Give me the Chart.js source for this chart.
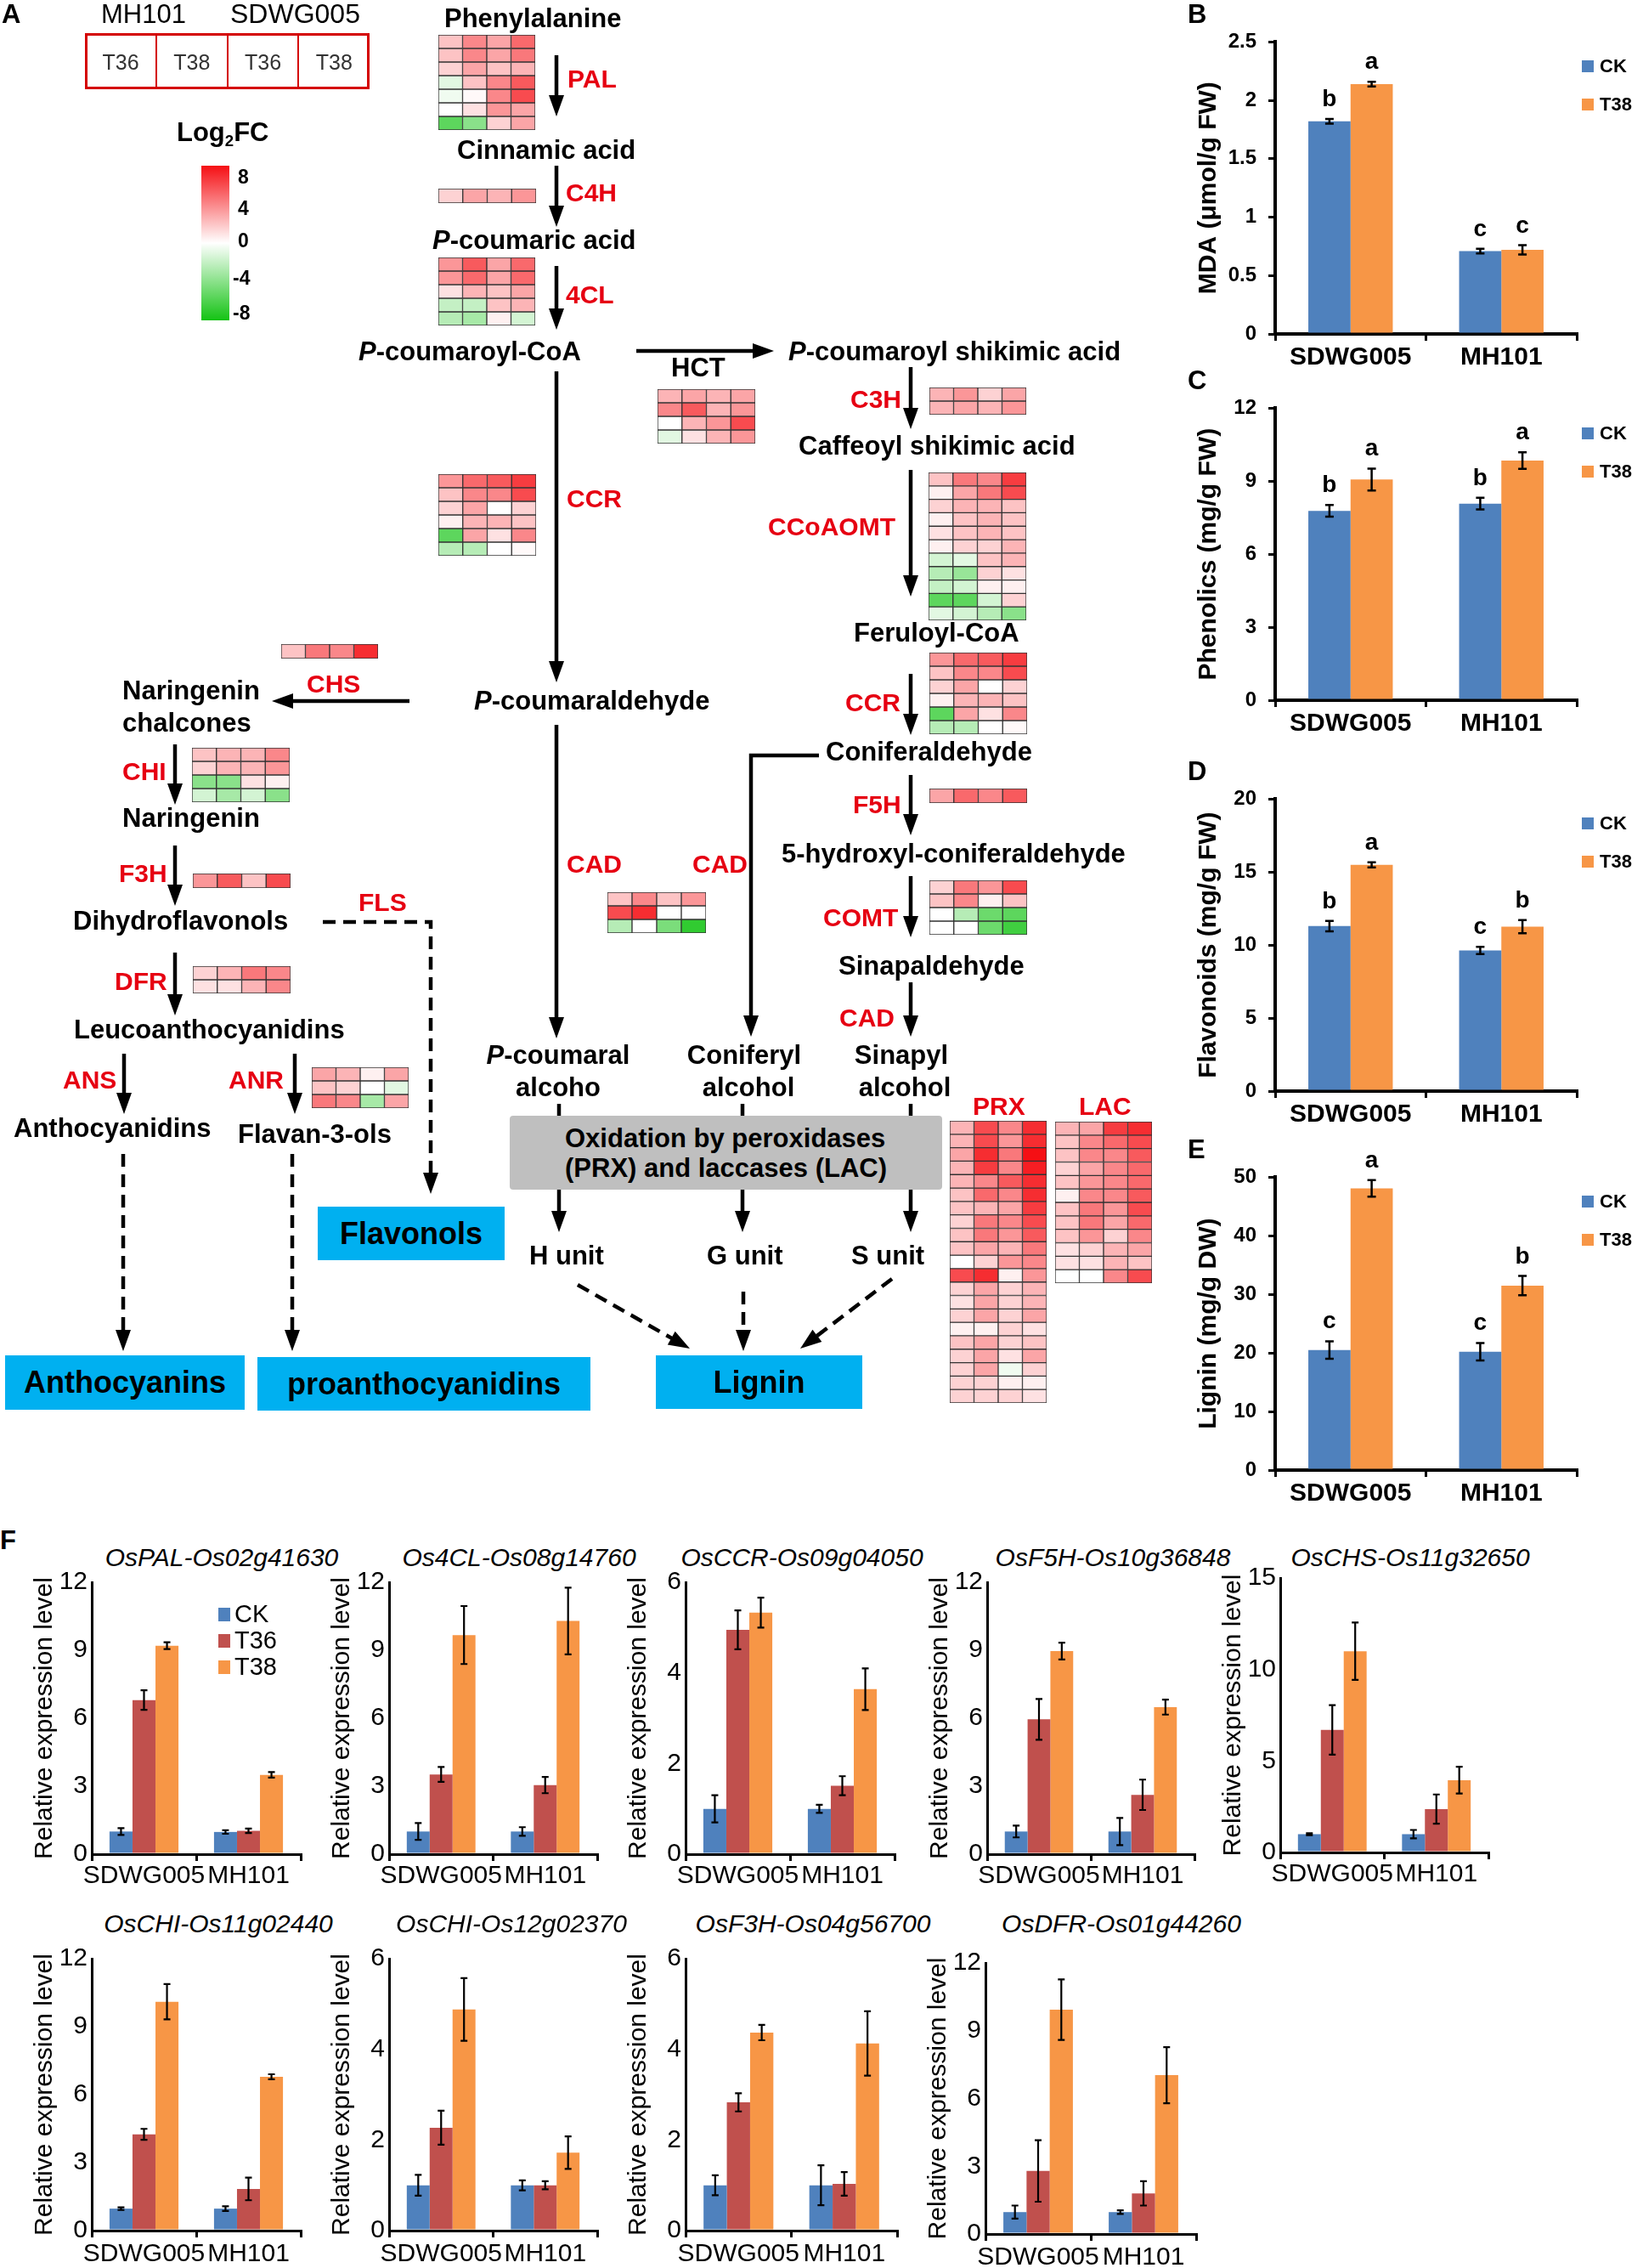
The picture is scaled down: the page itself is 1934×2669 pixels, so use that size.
<!DOCTYPE html>
<html>
<head>
<meta charset="utf-8">
<script src="https://cdn.jsdelivr.net/npm/chart.js@4"></script>
<style>
body { margin:0; background:#fff; width:1934px; height:2669px; position:relative; overflow:hidden; font-family:"Liberation Sans", Arial, sans-serif; }
.t { position:absolute; white-space:nowrap; line-height:1; color:#000; }
.box { position:absolute; display:flex; align-items:center; justify-content:center; font-weight:bold; color:#000; }
canvas { position:absolute; }
sub { font-size:60%; vertical-align:-0.3em; line-height:0; }
</style>
</head>
<body>
<canvas id="lines" width="1934" height="1700" style="left:0;top:0"></canvas>
<script>
// ---- heatmap values (log2 fold change), columns: MH101 T36, MH101 T38, SDWG005 T36, SDWG005 T38
const fcColumns = ['MH101 T36', 'MH101 T38', 'SDWG005 T36', 'SDWG005 T38'];
const palFC = [[2,4,3,5],[2,4,3,4.5],[1.5,3,2,2.5],[-1,2,4,5.5],[-0.5,0.2,4,6],[0,1,3.5,3],[-5.5,-4,1.5,3]];
const c4hFC = [[1.5,3,2.5,3.5]];
const clFC = [[3.5,5.5,3,5],[3.5,5,3,5],[1,2.5,2,3],[-2,-2,2,2.5],[-2.5,-3,0.5,-1.5]];
const hctFC = [[2.5,3,2.5,3],[4,5.5,2.5,3.5],[0,2.5,3.5,6],[-1,1,2.5,3.5]];
const c3hFC = [[2.5,3.5,1.5,3],[2.5,3,2.5,3.5]];
const ccrFC = [[3.5,5,5.5,6.5],[2,4,4,6],[1.5,3,0,1.5],[0.5,2.5,2.5,2],[-5.5,3,1,4],[-2.5,-2.5,0,0.2]];
const ccoaomtFC = [[2,4.5,4,6.5],[0.5,3,4.5,6],[1.5,2.5,2.5,2],[0.5,2,2.5,2],[1,2,2.5,2],[0.5,1.5,1.5,2.5],
  [-1.5,-1,2,2.5],[-2.5,-3.5,1.5,1],[-2,-1.5,0.5,0.5],[-5.5,-5.5,-1.5,1.5],[-1,-1.5,-2.5,-4]];
const chsFC = [[2,4.5,4,7]];
const chiFC = [[2,2.5,2.5,4],[1.5,2.5,2.5,3.5],[-4,-4,1,0.5],[-1.5,-3,-1.5,-4]];
const f3hFC = [[3.5,5.5,2,6]];
const dfrFC = [[1.5,2.5,4.5,4],[1,1,2.5,4]];
const anrFC = [[3,2.5,0.5,3],[2,1.5,0,-1],[4.5,4,-3,3]];
const cadFC = [[2,4,2,3.5],[6,7,0,0],[-2.5,0,-4.5,-7]];
const f5hFC = [[3,5,4,5.5]];
const comtFC = [[1.5,4.5,3.5,6],[2,4,0.5,2],[0,-2.5,-5,-5.5],[0,0,-5,-6.5]];
const prxFC = [[2.5,6,4,7],[2.5,6,3.5,7],[3,7,4.5,8],[2.5,6.5,4,7.5],[2.5,4,5.5,7],[2,5,4,7],[2,2.5,3,6.5],
  [1.5,4.5,4,6],[2,4.5,3.5,5.5],[2,3,2.5,4.5],[0,1.5,3.5,4],[6,7,0.5,3.5],[1.5,3,1.5,2.5],[1,3,1.5,2.5],
  [1.5,3,1.5,3],[0.5,0.5,1.5,1],[2,3,1.5,2],[1.5,3,1,3],[1.5,3,-0.5,1.5],[1.5,1.5,0.5,0.5],[1.5,1.5,1.5,1]];
const lacFC = [[2.5,3,6.5,7],[2,4,5,6],[2,4,4,5.5],[1.5,3,4,5],[2,3.5,4,5],[0.5,4,4,5.5],[2,4.5,3.5,6],
  [2,4.5,3,5],[2,3.5,1.5,4],[1,1.5,2.5,3],[1,1,2.5,2],[0,0,4,6]];
const fcTicks = ['8', '4', '0', '-4', '-8'];

// ---- panels B-E
const cultivars = ['SDWG005', 'MH101'];
const mdaCK = [1.82, 0.71], mdaT38 = [2.14, 0.72];
const mdaCKerr = [0.02, 0.02], mdaT38err = [0.02, 0.04];
const phenCK = [7.78, 8.08], phenT38 = [9.07, 9.85];
const phenCKerr = [0.24, 0.24], phenT38err = [0.45, 0.34];
const flavCK = [11.3, 9.63], flavT38 = [15.5, 11.26];
const flavCKerr = [0.36, 0.25], flavT38err = [0.17, 0.45];
const ligCK = [20.5, 20.2], ligT38 = [48.1, 31.5];
const ligCKerr = [1.5, 1.5], ligT38err = [1.4, 1.65];

// ---- panel F (rows: CK, T36, T38; columns: SDWG005, MH101)
const meanPAL = [[1.0, 0.98], [6.8, 1.03], [9.2, 3.5]],   errPAL = [[0.15, 0.08], [0.43, 0.1], [0.15, 0.12]];
const mean4CL = [[1.0, 1.0], [3.52, 3.05], [9.67, 10.29]], err4CL = [[0.37, 0.19], [0.33, 0.36], [1.28, 1.47]];
const meanCCR = [[1.0, 1.0], [4.95, 1.51], [5.33, 3.64]], errCCR = [[0.3, 0.09], [0.43, 0.21], [0.33, 0.46]];
const meanF5H = [[1.0, 1.0], [5.95, 2.62], [8.96, 6.49]], errF5H = [[0.26, 0.6], [0.9, 0.67], [0.37, 0.33]];
const meanCHS = [[1.0, 1.0], [6.7, 2.37], [11.0, 3.95]], errCHS = [[0.05, 0.23], [1.35, 0.8], [1.57, 0.73]];
const meanCHI11 = [[0.97, 0.97], [4.25, 1.84], [10.1, 6.79]], errCHI11 = [[0.06, 0.1], [0.24, 0.5], [0.78, 0.11]];
const meanCHI12 = [[1.0, 1.0], [2.27, 1.0], [4.88, 1.72]], errCHI12 = [[0.23, 0.11], [0.375, 0.09], [0.69, 0.36]];
const meanF3H = [[1.0, 1.0], [2.83, 1.03], [4.37, 4.13]], errF3H = [[0.22, 0.44], [0.2, 0.26], [0.17, 0.71]];
const meanDFR = [[0.97, 0.97], [2.79, 1.8], [9.93, 7.03]], errDFR = [[0.29, 0.08], [1.36, 0.54], [1.34, 1.24]];
const treatments = ['CK', 'T36', 'T38'];
const treatColors = ['#4f81bd', '#c0504d', '#f79646'];

const FONT = '"Liberation Sans", Arial, sans-serif';
Chart.defaults.font.family = FONT;

function txt(html, x, base, o) {
  o = o || {};
  const s = o.s || 31;
  const d = document.createElement('div');
  d.className = 't';
  d.innerHTML = html;
  d.style.fontSize = s + 'px';
  d.style.fontWeight = o.n ? 'normal' : 'bold';
  if (o.i) d.style.fontStyle = 'italic';
  if (o.red) d.style.color = '#e60012';
  if (o.c) d.style.color = o.c;
  d.style.left = x + 'px';
  d.style.top = (base - 0.8465 * s) + 'px';
  if (o.mid) d.style.transform = 'translateX(-50%)';
  document.body.appendChild(d);
}
function rect(x, y, w, h, css, html) {
  const d = document.createElement('div');
  d.className = 'box';
  d.style.cssText += `left:${x}px;top:${y}px;width:${w}px;height:${h}px;` + css;
  if (html) d.innerHTML = html;
  document.body.appendChild(d);
  return d;
}

function fcColor(v) {
  const t = Math.min(Math.abs(v) / 8, 1);
  const end = v >= 0 ? [245, 15, 20] : [20, 195, 20];
  const c = end.map(e => Math.round(255 - t * (255 - e)));
  return `rgb(${c[0]},${c[1]},${c[2]})`;
}

function heatmap(rows, x, y, w, h) {
  const cv = document.createElement('canvas');
  cv.width = w; cv.height = h;
  cv.style.left = x + 'px'; cv.style.top = y + 'px';
  document.body.appendChild(cv);
  new Chart(cv, {
    type: 'bar',
    data: {
      labels: fcColumns,
      datasets: rows.map(r => ({
        data: r.map(() => 1), backgroundColor: r.map(fcColor),
        borderColor: '#333', borderWidth: 1, borderSkipped: false,
        barPercentage: 1, categoryPercentage: 1
      }))
    },
    options: {
      responsive: false, animation: false, devicePixelRatio: 1,
      layout: { padding: 0 },
      plugins: { legend: { display: false }, tooltip: { enabled: false } },
      scales: {
        x: { display: false, stacked: true },
        y: { display: false, stacked: true, min: 0, max: rows.length, reverse: true }
      }
    }
  });
}

// ---------- panel A diagram ----------
const g = document.getElementById('lines').getContext('2d');
function arrow(pts, dashed, head) {
  if (head === undefined) head = true;
  g.save();
  g.lineWidth = 4.5; g.strokeStyle = '#000'; g.fillStyle = '#000';
  if (dashed) g.setLineDash([15, 9]);
  const n = pts.length;
  const [xa, ya] = pts[n - 2], [xb, yb] = pts[n - 1];
  const ang = Math.atan2(yb - ya, xb - xa), L = 25, W = 9;
  g.beginPath();
  g.moveTo(pts[0][0], pts[0][1]);
  for (let i = 1; i < n - 1; i++) g.lineTo(pts[i][0], pts[i][1]);
  g.lineTo(head ? xb - Math.cos(ang) * L * 0.8 : xb, head ? yb - Math.sin(ang) * L * 0.8 : yb);
  g.stroke();
  if (head) {
    const bx = xb - Math.cos(ang) * L, by = yb - Math.sin(ang) * L;
    g.setLineDash([]);
    g.beginPath();
    g.moveTo(xb, yb);
    g.lineTo(bx - W * Math.sin(ang), by + W * Math.cos(ang));
    g.lineTo(bx + W * Math.sin(ang), by - W * Math.cos(ang));
    g.closePath(); g.fill();
  }
  g.restore();
}
arrow([[655, 65], [655, 137]]);
arrow([[655, 195], [655, 267]]);
arrow([[655, 313], [655, 388]]);
arrow([[655, 437], [655, 803]]);
arrow([[749, 413], [911, 413]]);
arrow([[1072, 432], [1072, 505]]);
arrow([[1072, 553], [1072, 702]]);
arrow([[1072, 793], [1072, 865]]);
arrow([[964, 889], [884, 889], [884, 1220]]);
arrow([[1072, 912], [1072, 983]]);
arrow([[1072, 1031], [1072, 1103]]);
arrow([[1072, 1156], [1072, 1220]]);
arrow([[655, 853], [655, 1222]]);
arrow([[482, 825], [320, 825]]);
arrow([[206, 876], [206, 947]]);
arrow([[206, 995], [206, 1066]]);
arrow([[206, 1121], [206, 1195]]);
arrow([[146, 1240], [146, 1311]]);
arrow([[347, 1240], [347, 1311]]);
[658, 874, 1072].forEach(x => { arrow([[x, 1299], [x, 1313]], false, false); arrow([[x, 1400], [x, 1450]]); });
arrow([[380, 1085], [507, 1085], [507, 1405]], true);
arrow([[145, 1358], [145, 1590]], true);
arrow([[344, 1358], [344, 1590]], true);
arrow([[680, 1512], [812, 1587]], true);
arrow([[875, 1520], [875, 1590]], true);
arrow([[1050, 1505], [942, 1587]], true);

// header box and colour bar
txt('A', 2, 27);
txt('MH101', 119, 27, { n: 1, s: 31 });
txt('SDWG005', 271, 27, { n: 1, s: 32 });
rect(100, 39, 335, 66, 'border:3px solid #d40000;box-sizing:border-box;');
['T36', 'T38', 'T36', 'T38'].forEach((s, i) => {
  if (i > 0) rect(100 + i * 83.75 - 1, 39, 2, 66, 'background:#d40000;');
  txt(s, 100 + i * 83.75 + 42, 82, { n: 1, s: 25, mid: 1, c: '#333' });
});
txt('Log<sub>2</sub>FC', 208, 166);
rect(237, 195, 33, 182, 'background:linear-gradient(to bottom,' + fcColor(8) + ',#fff 50%,' + fcColor(-8) + ');');
const fcTickY = [208, 245, 283, 327, 368];
fcTicks.forEach((s, i) => txt(s, s[0] === '-' ? 274 : 280, fcTickY[i] + 8, { s: 23 }));

heatmap(palFC, 516, 41, 114, 112);
heatmap(c4hFC, 516, 222, 115, 17);
heatmap(clFC, 516, 303, 114, 80);
heatmap(hctFC, 774, 458, 115, 64);
heatmap(c3hFC, 1094, 456, 114, 32);
heatmap(ccrFC, 516, 558, 115, 96);
heatmap(ccoaomtFC, 1093, 556, 115, 174);
heatmap(ccrFC, 1094, 768, 115, 96);
heatmap(chsFC, 331, 758, 114, 17);
heatmap(chiFC, 226, 880, 115, 64);
heatmap(f3hFC, 227, 1028, 115, 17);
heatmap(dfrFC, 227, 1137, 115, 32);
heatmap(anrFC, 367, 1256, 114, 48);
heatmap(cadFC, 715, 1050, 116, 48);
heatmap(f5hFC, 1094, 928, 115, 17);
heatmap(comtFC, 1094, 1036, 115, 64);
heatmap(prxFC, 1118, 1319, 114, 332);
heatmap(lacFC, 1242, 1320, 114, 190);

const R = { red: 1, s: 30 };
txt('Phenylalanine', 523, 32);
txt('PAL', 668, 103, R);
txt('Cinnamic acid', 538, 187);
txt('C4H', 666, 237, R);
txt('<i>P</i>-coumaric acid', 509, 293);
txt('4CL', 666, 357, R);
txt('<i>P</i>-coumaroyl-CoA', 422, 424);
txt('HCT', 790, 443);
txt('<i>P</i>-coumaroyl shikimic acid', 928, 424);
txt('C3H', 1001, 480, R);
txt('Caffeoyl shikimic acid', 940, 535);
txt('CCR', 667, 597, R);
txt('CCoAOMT', 904, 630, R);
txt('Feruloyl-CoA', 1005, 755);
txt('CHS', 361, 815, R);
txt('Naringenin', 144, 823);
txt('chalcones', 144, 861);
txt('<i>P</i>-coumaraldehyde', 558, 835);
txt('CCR', 995, 837, R);
txt('Coniferaldehyde', 972, 895);
txt('CHI', 144, 918, R);
txt('F5H', 1004, 957, R);
txt('Naringenin', 144, 973);
txt('5-hydroxyl-coniferaldehyde', 920, 1015);
txt('CAD', 667, 1027, R);
txt('CAD', 815, 1027, R);
txt('F3H', 140, 1038, R);
txt('FLS', 422, 1072, R);
txt('COMT', 969, 1090, R);
txt('Dihydroflavonols', 86, 1094);
txt('Sinapaldehyde', 987, 1147);
txt('DFR', 135, 1165, R);
txt('CAD', 988, 1208, R);
txt('Leucoanthocyanidins', 87, 1222);
txt('<i>P</i>-coumaral', 657, 1252, { mid: 1 });
txt('alcoho', 657, 1290, { mid: 1 });
txt('Coniferyl', 876, 1252, { mid: 1 });
txt('alcohol', 881, 1290, { mid: 1 });
txt('Sinapyl', 1061, 1252, { mid: 1 });
txt('alcohol', 1065, 1290, { mid: 1 });
txt('ANS', 74, 1281, R);
txt('ANR', 269, 1281, R);
txt('PRX', 1145, 1312, R);
txt('LAC', 1270, 1312, R);
txt('Anthocyanidins', 16, 1338);
txt('Flavan-3-ols', 280, 1345);
rect(600, 1313, 509, 87, 'background:#bfbfbf;border-radius:4px;flex-direction:column;font-size:31px;line-height:35px;',
  'Oxidation by peroxidases<br>(PRX) and laccases (LAC)');
txt('H unit', 623, 1488);
txt('G unit', 832, 1488);
txt('S unit', 1002, 1488);
const blue = 'background:#00b0f0;font-size:36px;';
rect(374, 1420, 220, 63, blue, 'Flavonols');
rect(6, 1595, 282, 64, blue, 'Anthocyanins');
rect(303, 1597, 392, 63, blue, 'proanthocyanidins');
rect(772, 1595, 243, 63, blue, 'Lignin');

// ---------- bar charts ----------
const errPlugin = {
  id: 'errbars',
  afterDatasetsDraw(chart, args, opts) {
    const ctx = chart.ctx, ys = chart.scales.y;
    chart.data.datasets.forEach((ds, i) => {
      chart.getDatasetMeta(i).data.forEach((bar, j) => {
        const v = ds.data[j], e = ds.err[j];
        const top = ys.getPixelForValue(v + e), bot = ys.getPixelForValue(v - e);
        ctx.save();
        ctx.strokeStyle = '#000'; ctx.lineWidth = opts.lw;
        ctx.beginPath();
        ctx.moveTo(bar.x, top); ctx.lineTo(bar.x, bot);
        ctx.moveTo(bar.x - opts.cap, top); ctx.lineTo(bar.x + opts.cap, top);
        ctx.moveTo(bar.x - opts.cap, bot); ctx.lineTo(bar.x + opts.cap, bot);
        ctx.stroke();
        if (ds.letters) {
          ctx.fillStyle = '#000'; ctx.font = 'bold 28px ' + FONT;
          ctx.textAlign = 'center'; ctx.textBaseline = 'alphabetic';
          ctx.fillText(ds.letters[j], bar.x, top - 15);
        }
        ctx.restore();
      });
    });
  }
};

function barChart(c) {
  const [x0, y0, x1, y1] = c.area;
  const be = c.be;
  const wy = c.gap + 18, padT = 24, padR = 36, hx = 56;
  const cv = document.createElement('canvas');
  const w = wy + (x1 - x0) + padR, h = padT + (y1 - y0) + hx;
  cv.width = w; cv.height = h;
  cv.style.left = (x0 - wy) + 'px'; cv.style.top = (y0 - padT) + 'px';
  document.body.appendChild(cv);
  new Chart(cv, {
    type: 'bar',
    data: {
      labels: cultivars,
      datasets: c.sets.map(s => ({
        label: s.label, data: s.data, err: s.err, letters: s.letters,
        backgroundColor: s.color, borderWidth: 0,
        barPercentage: 1, categoryPercentage: be ? 0.56 : 0.66
      }))
    },
    options: {
      responsive: false, animation: false, devicePixelRatio: 1,
      layout: { padding: { top: padT, right: padR, bottom: 0, left: 0 } },
      plugins: {
        legend: { display: false }, tooltip: { enabled: false },
        errbars: { lw: be ? 2.5 : 2.2, cap: be ? 5 : 4 }
      },
      scales: {
        x: {
          grid: { drawOnChartArea: false, drawTicks: true, tickLength: 8, color: '#000', lineWidth: 3, offset: true },
          border: { color: '#000', width: be ? 4 : 3 },
          ticks: { color: '#000', padding: c.xPad, maxRotation: 0, autoSkip: false,
                   font: { size: be ? 30 : 30, weight: be ? 'bold' : 'normal' } },
          afterFit: s => { s.height = hx; }
        },
        y: {
          min: 0, max: c.yMax,
          ticks: { stepSize: c.yStep, color: '#000', padding: be ? 14 : 5,
                   callback: v => String(Number(v.toFixed(2))),
                   font: { size: be ? 24 : 30, weight: be ? 'bold' : 'normal' } },
          grid: { drawOnChartArea: false, drawTicks: be, tickLength: 8, color: '#000', lineWidth: 3 },
          border: { color: '#000', width: be ? 4 : 3 },
          title: { display: true, text: c.yTitle, color: '#000', padding: 0,
                   font: { size: 30, weight: be ? 'bold' : 'normal' } },
          afterFit: s => { s.width = wy; }
        }
      }
    },
    plugins: [errPlugin]
  });
}

function panelBE(letter, top, bottom, yMax, yStep, yTitle, ck, t38, ckErr, t38Err, ckLet, t38Let, legY) {
  txt(letter, 1398, top - 18);
  barChart({
    be: true, area: [1501, top, 1856, bottom], gap: 78, xPad: 2, yMax, yStep, yTitle,
    sets: [
      { label: 'CK', data: ck, err: ckErr, letters: ckLet, color: treatColors[0] },
      { label: 'T38', data: t38, err: t38Err, letters: t38Let, color: treatColors[2] }
    ]
  });
  [['CK', treatColors[0]], ['T38', treatColors[2]]].forEach(([s, col], i) => {
    const cy = legY + i * 45;
    rect(1862, cy - 7, 14, 14, 'background:' + col + ';');
    txt(s, 1883, cy + 8, { s: 22 });
  });
}
panelBE('B', 45, 393, 2.5, 0.5, 'MDA (\u03bcmol/g FW)', mdaCK, mdaT38, mdaCKerr, mdaT38err, ['b', 'c'], ['a', 'c'], 78);
panelBE('C', 476, 824, 12, 3, 'Phenolics (mg/g FW)', phenCK, phenT38, phenCKerr, phenT38err, ['b', 'b'], ['a', 'a'], 510);
panelBE('D', 936, 1284, 20, 5, 'Flavonoids (mg/g FW)', flavCK, flavT38, flavCKerr, flavT38err, ['b', 'c'], ['a', 'b'], 969);
panelBE('E', 1381, 1730, 50, 10, 'Lignin (mg/g DW)', ligCK, ligT38, ligCKerr, ligT38err, ['c', 'c'], ['a', 'b'], 1414);

// panel F
txt('F', 0, 1823);
const fCharts = [
  { gene: 'OsPAL-Os02g41630', mean: meanPAL, err: errPAL, area: [108, 1862, 354, 2182], yMax: 12, yStep: 3, tx: 261 },
  { gene: 'Os4CL-Os08g14760', mean: mean4CL, err: err4CL, area: [458, 1862, 703, 2182], yMax: 12, yStep: 3, tx: 611 },
  { gene: 'OsCCR-Os09g04050', mean: meanCCR, err: errCCR, area: [807, 1862, 1053, 2182], yMax: 6, yStep: 2, tx: 944 },
  { gene: 'OsF5H-Os10g36848', mean: meanF5H, err: errF5H, area: [1162, 1862, 1406, 2182], yMax: 12, yStep: 3, tx: 1310 },
  { gene: 'OsCHS-Os11g32650', mean: meanCHS, err: errCHS, area: [1507, 1857, 1752, 2180], yMax: 15, yStep: 5, tx: 1660 },
  { gene: 'OsCHI-Os11g02440', mean: meanCHI11, err: errCHI11, area: [108, 2305, 354, 2625], yMax: 12, yStep: 3, tx: 257 },
  { gene: 'OsCHI-Os12g02370', mean: meanCHI12, err: errCHI12, area: [458, 2305, 703, 2625], yMax: 6, yStep: 2, tx: 602 },
  { gene: 'OsF3H-Os04g56700', mean: meanF3H, err: errF3H, area: [807, 2305, 1056, 2625], yMax: 6, yStep: 2, tx: 957 },
  { gene: 'OsDFR-Os01g44260', mean: meanDFR, err: errDFR, area: [1160, 2310, 1408, 2629], yMax: 12, yStep: 3, tx: 1320 }
];
fCharts.forEach((f, k) => {
  const row2 = k >= 5;
  txt(f.gene, f.tx, row2 ? 2274 : 1843, { n: 1, i: 1, s: 30, mid: 1 });
  barChart({
    be: false, area: f.area, gap: 55, xPad: row2 ? 2 : 0, yMax: f.yMax, yStep: f.yStep,
    yTitle: 'Relative expression level',
    sets: treatments.map((t, i) => ({ label: t, data: f.mean[i], err: f.err[i], color: treatColors[i] }))
  });
});
treatments.forEach((t, i) => {
  const cy = 1900 + i * 31;
  rect(257, cy - 8, 14, 16, 'background:' + treatColors[i] + ';');
  txt(t, 276, cy + 10, { n: 1, s: 29 });
});
</script>
</body>
</html>
